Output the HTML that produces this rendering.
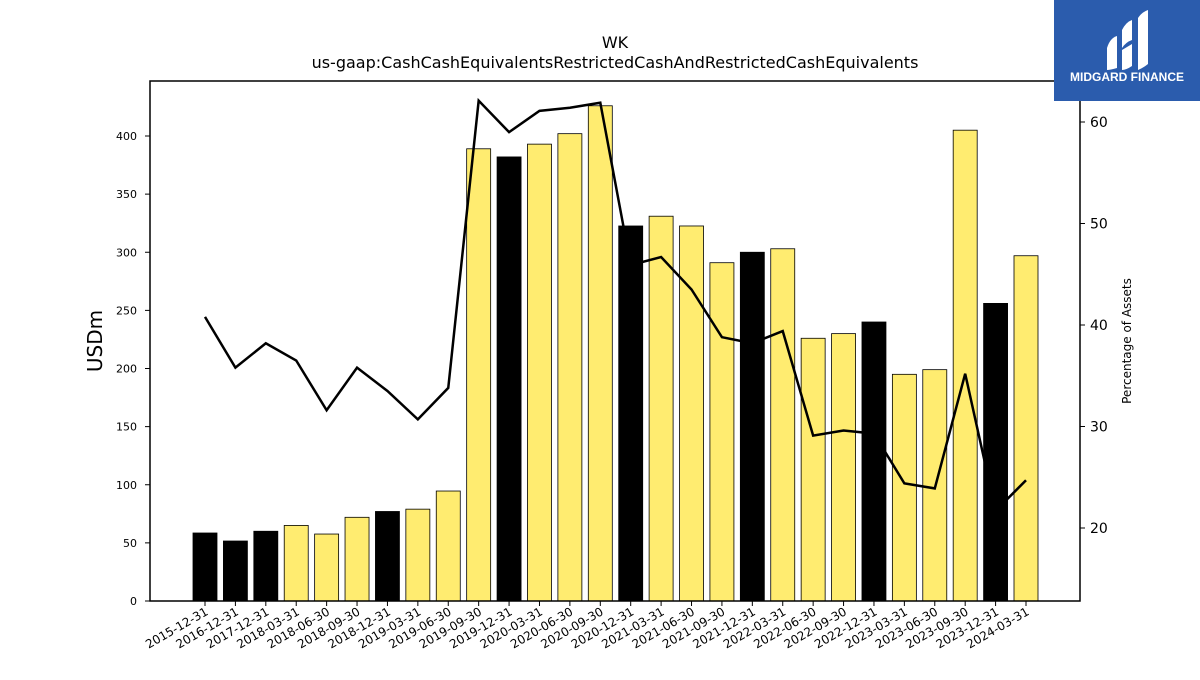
<!DOCTYPE html>
<html><head><meta charset="utf-8"><style>
body{margin:0;background:#fff;font-family:"Liberation Sans","DejaVu Sans",sans-serif}
svg text{font-family:"DejaVu Sans","Liberation Sans",sans-serif}
</style></head><body>
<svg id="chart" width="1200" height="675" xmlns="http://www.w3.org/2000/svg">
<rect width="1200" height="675" fill="#fff"/>
<text x="615" y="48" font-size="16" text-anchor="middle">WK</text>
<text x="615" y="68" font-size="16" text-anchor="middle">us-gaap:CashCashEquivalentsRestrictedCashAndRestrictedCashEquivalents</text>
<g id="bars"></g>
<g id="line"></g>
<g id="axes"></g>
<rect x="150" y="81" width="930" height="520" fill="none" stroke="#000" stroke-width="1.5"/>
<text transform="translate(102,341) rotate(-90)" font-size="20" text-anchor="middle">USDm</text>
<text transform="translate(1131,341) rotate(-90)" font-size="12" text-anchor="middle">Percentage of Assets</text>
<g>
<rect x="1054" y="0" width="146" height="101" fill="#2b5cad"/>
<path d="M1107 48 Q1110 38 1117 36 L1117 68 Q1110 70 1107 70 Z" fill="#fff"/>
<path d="M1122 30 Q1126 22 1132 20 L1132 40 Q1126 42 1122 48 Z M1122 50 L1132 44 L1132 66 Q1126 70 1122 70 Z" fill="#fff"/>
<path d="M1138 18 Q1142 12 1148 10 L1148 64 Q1143 68 1138 70 Z" fill="#fff"/>
<text x="1127" y="81" font-size="12" font-weight="bold" fill="#fff" text-anchor="middle" style="font-family:'Liberation Sans',sans-serif">MIDGARD FINANCE</text>
</g>
</svg>
<script>
const categories=["2015-12-31","2016-12-31","2017-12-31","2018-03-31","2018-06-30","2018-09-30","2018-12-31","2019-03-31","2019-06-30","2019-09-30","2019-12-31","2020-03-31","2020-06-30","2020-09-30","2020-12-31","2021-03-31","2021-06-30","2021-09-30","2021-12-31","2022-03-31","2022-06-30","2022-09-30","2022-12-31","2023-03-31","2023-06-30","2023-09-30","2023-12-31","2024-03-31"];
const cashValues=[58.5,51.6,60,65,57.6,72,77,79,94.6,389,382,393,402,426,322.6,331,322.6,291,300,303,226,230,240,195,199,405,256,297];
const pctValues=[40.8,35.8,38.2,36.5,31.6,35.8,33.5,30.7,33.8,62.1,59.0,61.1,61.4,61.9,45.9,46.7,43.5,38.8,38.2,39.4,29.1,29.6,29.3,24.4,23.9,35.2,21.7,24.7];
const leftTicks=[0,50,100,150,200,250,300,350,400];
const rightTicks=[20,30,40,50,60];
const NS="http://www.w3.org/2000/svg";
function yL(v){return 601-v*1.1625;}
function yR(v){return 122+(60-v)*10.15;}
function xC(i){return 205+i*(1026-205)/(categories.length-1);}
function mk(t,a,p){const e=document.createElementNS(NS,t);for(const k in a)e.setAttribute(k,a[k]);p.appendChild(e);return e;}
const bars=document.getElementById('bars'),line=document.getElementById('line'),axes=document.getElementById('axes');
categories.forEach((c,i)=>{
  const black=c.endsWith('12-31');
  const r=mk('rect',{x:xC(i)-12,y:yL(cashValues[i]),width:24,height:601-yL(cashValues[i]),fill:black?'#000':'#ffec70',stroke:'#000','stroke-width':0.8},bars);
  
  
  mk('line',{x1:xC(i),x2:xC(i),y1:601,y2:606,stroke:'#000'},axes);
  const t=mk('text',{transform:`translate(${xC(i)+4},${614}) rotate(-30)`,'font-size':12,'text-anchor':'end'},axes);
  t.textContent=c;
  
  
});
const pts=pctValues.map((v,i)=>xC(i)+','+yR(v)).join(' ');
const pl=mk('polyline',{points:pts,fill:'none',stroke:'#000','stroke-width':2.5},line);


leftTicks.forEach(v=>{
  mk('line',{x1:145,x2:150,y1:yL(v),y2:yL(v),stroke:'#000'},axes);
  const t=mk('text',{x:137,y:yL(v)+4,'font-size':11,'text-anchor':'end'},axes);
  t.textContent=v;
  
  
});
rightTicks.forEach(v=>{
  mk('line',{x1:1080,x2:1085,y1:yR(v),y2:yR(v),stroke:'#000'},axes);
  const t=mk('text',{x:1090,y:yR(v)+5,'font-size':14},axes);
  t.textContent=v;
  
  
});
</script>
</body></html>
